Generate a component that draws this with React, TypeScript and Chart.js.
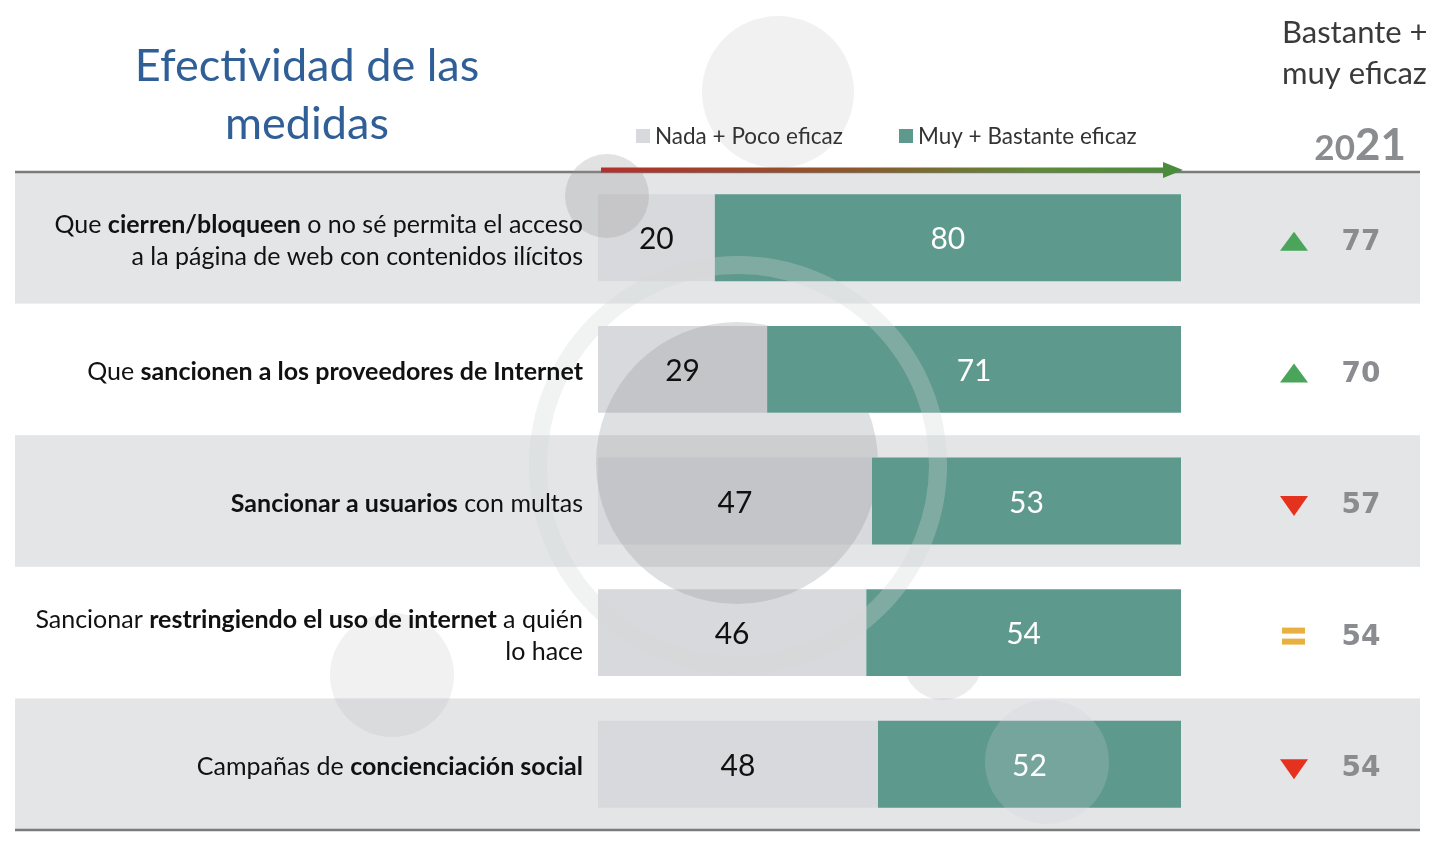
import React, { useEffect, useRef } from "react";
import { Chart, registerables } from "chart.js";

Chart.register(...registerables);

// ---- Data ----
type Seg = [string, boolean];
const labelLines: Seg[][][] = [
  [
    [["Que ", false], ["cierren/bloqueen", true], [" o no sé permita el acceso", false]],
    [["a la página de web con contenidos ilícitos", false]],
  ],
  [[["Que ", false], ["sancionen a los proveedores de Internet", true]]],
  [[["Sancionar a usuarios", true], [" con multas", false]]],
  [
    [["Sancionar ", false], ["restringiendo el uso de internet", true], [" a quién", false]],
    [["lo hace", false]],
  ],
  [[["Campañas de ", false], ["concienciación social", true]]],
];
const categories = labelLines.map((l) => l.map((line) => line.map((s) => s[0]).join("")).join(" "));
const nadaPoco = [20, 29, 47, 46, 48];
const muyBastante = [80, 71, 53, 54, 52];
const prev2021 = [77, 70, 57, 54, 54];
const seriesNames = ["Nada + Poco eficaz", "Muy + Bastante eficaz"];
const title = ["Efectividad de las", "medidas"];
const rightHeader = ["Bastante +", "muy eficaz"];

// ---- Styles ----
const FONT = 'Lato, "Open Sans", sans-serif';
const GRAY_SEG = "#d8d9dc";
const TEAL = "#5e998d";
const BAND = "#e4e5e7";

// decorative watermark circles [x, y, r, fill, ringWidth, clipOutTeal]
const decor: Array<[number, number, number, string, number, boolean]> = [
  [778, 92, 76, "rgba(160,162,166,0.15)", 0, true],
  [607, 196, 42, "rgba(150,152,156,0.28)", 0, true],
  [737, 463, 141, "rgba(150,152,156,0.3)", 0, true],
  [738, 465, 200, "rgba(210,214,216,0.3)", 18, false],
  [392, 675, 62, "rgba(160,162,166,0.15)", 0, true],
  [943, 660, 40, "rgba(160,162,166,0.2)", 0, true],
  [1047, 762, 62, "rgba(205,210,212,0.22)", 0, false],
];

function drawRich(ctx: CanvasRenderingContext2D, line: Seg[], rightX: number, y: number, size: number) {
  const fonts = line.map((s) => `${s[1] ? "bold " : ""}${size}px ${FONT}`);
  let total = 0;
  const widths = line.map((s, i) => {
    ctx.font = fonts[i];
    const w = ctx.measureText(s[0]).width;
    total += w;
    return w;
  });
  let x = rightX - total;
  ctx.textAlign = "left";
  line.forEach((s, i) => {
    ctx.font = fonts[i];
    ctx.fillText(s[0], x, y);
    x += widths[i];
  });
}

const decoPlugin = {
  id: "deco",
  beforeDatasetsDraw(chart: any) {
    const { ctx, chartArea } = chart;
    const n = categories.length;
    const pitch = (chartArea.bottom - chartArea.top) / n;
    ctx.save();
    for (let i = 0; i < n; i++) {
      if (i % 2 === 0) {
        ctx.fillStyle = BAND;
        ctx.fillRect(15, chartArea.top + i * pitch, 1405, pitch);
      }
    }
    ctx.strokeStyle = "#7b7b7b";
    ctx.lineWidth = 2.5;
    ctx.beginPath();
    ctx.moveTo(15, chartArea.top);
    ctx.lineTo(1420, chartArea.top);
    ctx.moveTo(15, chartArea.bottom);
    ctx.lineTo(1420, chartArea.bottom);
    ctx.stroke();
    ctx.restore();
  },
  afterDatasetsDraw(chart: any) {
    const { ctx, chartArea } = chart;
    const xs = chart.scales.x;
    const ys = chart.scales.y;
    const tealRects = chart.getDatasetMeta(1).data.map((el: any) => {
      const p = el.getProps(["x", "y", "base", "height"], true);
      return [p.base, p.y - p.height / 2, p.x - p.base, p.height];
    });
    // watermark circles
    decor.forEach(([cx, cy, r, col, ring, clipTeal]) => {
      ctx.save();
      if (clipTeal) {
        ctx.beginPath();
        ctx.rect(0, 0, 1440, 841);
        tealRects.forEach((t: number[]) => ctx.rect(t[0], t[1], t[2], t[3]));
        ctx.clip("evenodd");
      }
      ctx.beginPath();
      ctx.arc(cx, cy, r, 0, Math.PI * 2);
      if (ring) {
        ctx.strokeStyle = col;
        ctx.lineWidth = ring;
        ctx.stroke();
      } else {
        ctx.fillStyle = col;
        ctx.fill();
      }
      ctx.restore();
    });

    ctx.save();
    // gradient arrow
    const x0 = xs.getPixelForValue(0) + 3;
    const x1 = xs.getPixelForValue(100);
    const ay = chartArea.top - 2;
    const g = ctx.createLinearGradient(x0, 0, x1, 0);
    g.addColorStop(0, "#b3302c");
    g.addColorStop(0.45, "#8a5a2c");
    g.addColorStop(0.75, "#5e8a38");
    g.addColorStop(1, "#4a8c3c");
    ctx.strokeStyle = g;
    ctx.lineWidth = 5;
    ctx.beginPath();
    ctx.moveTo(x0, ay);
    ctx.lineTo(x1 - 16, ay);
    ctx.stroke();
    ctx.fillStyle = "#4a8c3c";
    ctx.beginPath();
    ctx.moveTo(x1 - 18, ay - 8);
    ctx.lineTo(x1 + 2, ay);
    ctx.lineTo(x1 - 18, ay + 8);
    ctx.closePath();
    ctx.fill();

    ctx.textBaseline = "middle";
    for (let i = 0; i < categories.length; i++) {
      const cy = ys.getPixelForValue(i);
      // left labels
      ctx.fillStyle = "#111";
      const lines = labelLines[i];
      const lh = 32;
      lines.forEach((line, k) => {
        const y = cy + 3 + (k - (lines.length - 1) / 2) * lh;
        drawRich(ctx, line, 583, y, 25);
      });
      // value labels
      ctx.font = `30px ${FONT}`;
      ctx.textAlign = "center";
      const a = nadaPoco[i];
      const b = muyBastante[i];
      ctx.fillStyle = "#111";
      ctx.fillText(String(a), (xs.getPixelForValue(0) + xs.getPixelForValue(a)) / 2, cy + 2);
      ctx.fillStyle = "#fff";
      ctx.fillText(String(b), (xs.getPixelForValue(a) + xs.getPixelForValue(a + b)) / 2, cy + 2);
      // 2021 comparison
      const p = prev2021[i];
      const tx = 1294;
      const ty = cy + 4;
      if (b > p) {
        ctx.fillStyle = "#4aa55a";
        ctx.beginPath();
        ctx.moveTo(tx - 14, ty + 9);
        ctx.lineTo(tx + 14, ty + 9);
        ctx.lineTo(tx, ty - 10);
        ctx.closePath();
        ctx.fill();
      } else if (b < p) {
        ctx.fillStyle = "#e5321f";
        ctx.beginPath();
        ctx.moveTo(tx - 14, ty - 9);
        ctx.lineTo(tx + 14, ty - 9);
        ctx.lineTo(tx, ty + 11);
        ctx.closePath();
        ctx.fill();
      } else {
        ctx.fillStyle = "#e8b040";
        ctx.fillRect(tx - 12, ty - 9, 23, 6);
        ctx.fillRect(tx - 12, ty + 2, 23, 6);
      }
      ctx.fillStyle = "#8a8c8f";
      ctx.font = `bold 28px "DejaVu Sans", Verdana, sans-serif`;
      ctx.textAlign = "center";
      ctx.fillText(String(p), 1361, ty + 1);
    }

    // title
    ctx.textAlign = "center";
    ctx.textBaseline = "alphabetic";
    ctx.fillStyle = "#2f5f96";
    ctx.font = `45px ${FONT}`;
    ctx.fillText(title[0], 307, 81);
    ctx.fillText(title[1], 307, 139);

    // right header
    ctx.textAlign = "left";
    ctx.fillStyle = "#3a3a3a";
    ctx.font = `31px ${FONT}`;
    ctx.fillText(rightHeader[0], 1282, 43);
    ctx.fillText(rightHeader[1], 1282, 84);

    // 2021
    ctx.fillStyle = "#8a8c8f";
    ctx.font = `bold 44px ${FONT}`;
    const w21 = ctx.measureText("21").width;
    ctx.fillText("21", 1406 - w21, 160);
    ctx.font = `bold 35px ${FONT}`;
    const w20 = ctx.measureText("20").width;
    ctx.fillText("20", 1406 - w21 - w20, 160);

    // legend
    const ds = chart.data.datasets;
    const legendX = [636, 899];
    ctx.font = `22.5px ${FONT}`;
    ctx.textBaseline = "middle";
    ds.forEach((d: any, k: number) => {
      ctx.fillStyle = d.backgroundColor;
      ctx.fillRect(legendX[k], 129, 14, 14);
      ctx.fillStyle = "#333";
      ctx.fillText(d.label, legendX[k] + 19, 137);
    });
    ctx.restore();
  },
};

export default function App() {
  const ref = useRef<HTMLCanvasElement>(null);
  useEffect(() => {
    if (!ref.current) return;
    const chart = new Chart(ref.current, {
      type: "bar",
      data: {
        labels: categories,
        datasets: [
          { label: seriesNames[0], data: nadaPoco, backgroundColor: GRAY_SEG, barPercentage: 0.66, categoryPercentage: 1 },
          { label: seriesNames[1], data: muyBastante, backgroundColor: TEAL, barPercentage: 0.66, categoryPercentage: 1 },
        ],
      },
      options: {
        indexAxis: "y",
        responsive: false,
        animation: false,
        devicePixelRatio: 1,
        layout: { padding: { left: 598, right: 259, top: 172, bottom: 11 } },
        scales: {
          x: { stacked: true, min: 0, max: 100, display: false },
          y: { stacked: true, display: false },
        },
        plugins: { legend: { display: false }, tooltip: { enabled: false } },
      },
      plugins: [decoPlugin],
    });
    return () => chart.destroy();
  }, []);
  return (
    <div style={{ position: "fixed", left: 0, top: 0, width: 1440, height: 841, background: "#fff" }}>
      <canvas ref={ref} width={1440} height={841} style={{ display: "block" }} />
    </div>
  );
}
